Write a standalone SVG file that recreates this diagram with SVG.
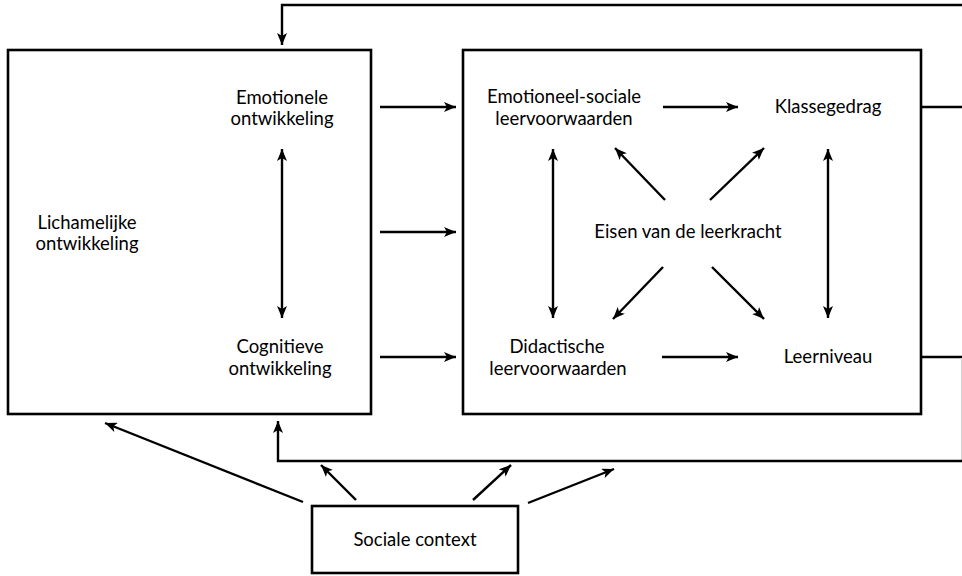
<svg xmlns="http://www.w3.org/2000/svg" width="962" height="576" viewBox="0 0 962 576">
  <style>
    .box { fill: #fff; stroke: #000; stroke-width: 2.6; }
    .lbl { font-family: Lato, "Liberation Sans", sans-serif; font-size: 18.5px; fill: #000; text-anchor: middle; }
    .ln { fill: none; stroke: #000; stroke-width: 2.4; }
    .arr { fill: none; stroke: #000; stroke-width: 2.4; marker-end: url(#ah); }
    .dbl { fill: none; stroke: #000; stroke-width: 2.4; marker-start: url(#ahs); marker-end: url(#ah); }
  </style>
  <defs>
    <marker id="ah" viewBox="0 0 12 10" refX="12" refY="5" markerWidth="12" markerHeight="10" markerUnits="userSpaceOnUse" orient="auto">
      <path d="M0,0 L12,5 L0,10 L3,5 Z" fill="#000"/>
    </marker>
    <marker id="ahs" viewBox="0 0 12 10" refX="12" refY="5" markerWidth="12" markerHeight="10" markerUnits="userSpaceOnUse" orient="auto-start-reverse">
      <path d="M0,0 L12,5 L0,10 L3,5 Z" fill="#000"/>
    </marker>
  </defs>
  <rect width="962" height="576" fill="#fff"/>

  <!-- outer box: development -->
  <g id="ontwikkeling">
    <rect class="box" x="8" y="50" width="363" height="364"/>
    <text class="lbl" x="282" y="104">Emotionele</text>
    <text class="lbl" x="282" y="125">ontwikkeling</text>
    <text class="lbl" x="87" y="229">Lichamelijke</text>
    <text class="lbl" x="87" y="250">ontwikkeling</text>
    <text class="lbl" x="280" y="353">Cognitieve</text>
    <text class="lbl" x="280" y="375">ontwikkeling</text>
  </g>

  <!-- school box -->
  <g id="school">
    <rect class="box" x="463" y="50" width="458" height="364"/>
    <text class="lbl" x="564" y="103">Emotioneel-sociale</text>
    <text class="lbl" x="564" y="125">leervoorwaarden</text>
    <text class="lbl" x="828" y="113">Klassegedrag</text>
    <text class="lbl" x="688" y="238">Eisen van de leerkracht</text>
    <text class="lbl" x="557" y="353">Didactische</text>
    <text class="lbl" x="558" y="375">leervoorwaarden</text>
    <text class="lbl" x="828" y="363">Leerniveau</text>
  </g>

  <!-- social context -->
  <g id="sociale-context">
    <rect class="box" x="312" y="506" width="206" height="67"/>
    <text class="lbl" x="415" y="546">Sociale context</text>
  </g>

  <g id="connectors">
    <!-- feedback loops, running off the right edge -->
    <polyline class="arr" points="962,5 282,5 282,45"/>
    <line class="ln" x1="921" y1="107" x2="962" y2="107"/>
    <line class="ln" x1="921" y1="357" x2="962" y2="357"/>
    <line x1="961.5" y1="358" x2="961.5" y2="461" stroke="#d0d0d0" stroke-width="1"/>
    <polyline class="arr" points="962,461 278,461 278,421"/>

    <!-- between boxes -->
    <line class="arr" x1="380" y1="107" x2="456" y2="107"/>
    <line class="arr" x1="380" y1="232" x2="456" y2="232"/>
    <line class="arr" x1="380" y1="357" x2="456" y2="357"/>

    <!-- inside development box -->
    <line class="dbl" x1="282" y1="149" x2="282" y2="318"/>

    <!-- inside school box -->
    <line class="arr" x1="663" y1="107" x2="738" y2="107"/>
    <line class="arr" x1="662" y1="357" x2="738" y2="357"/>
    <line class="dbl" x1="553" y1="149" x2="553" y2="318"/>
    <line class="dbl" x1="828" y1="149" x2="828" y2="318"/>
    <line class="arr" x1="665" y1="200" x2="615" y2="148"/>
    <line class="arr" x1="710" y1="200" x2="764" y2="148"/>
    <line class="arr" x1="663" y1="267" x2="613" y2="319"/>
    <line class="arr" x1="712" y1="267" x2="764" y2="319"/>

    <!-- from social context -->
    <line class="arr" x1="303" y1="502" x2="105" y2="423"/>
    <line class="arr" x1="356" y1="500" x2="321" y2="465"/>
    <line class="arr" x1="473" y1="500" x2="511" y2="465"/>
    <line class="arr" x1="528" y1="503" x2="614" y2="469"/>
  </g>
</svg>
